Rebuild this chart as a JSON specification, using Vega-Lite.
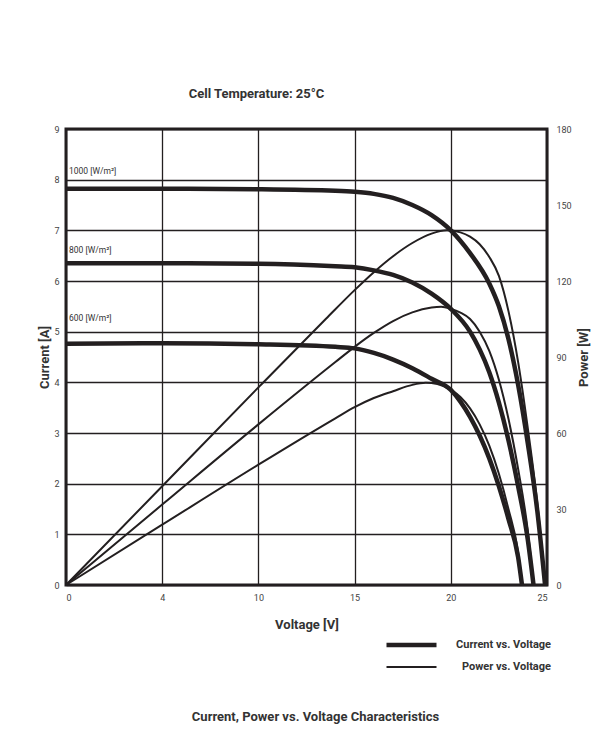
{
  "$schema": "https://vega.github.io/schema/vega-lite/v6.json",
  "background": "white",
  "padding": {"left": 37, "top": 86, "right": 20, "bottom": 20},
  "config": {
    "font": "Roboto",
    "view": {"stroke": "#231f20", "strokeWidth": 3},
    "axis": {"labelFont": "Roboto", "labelFontSize": 9, "labelColor": "#444", "titleFont": "Roboto", "titleFontSize": 13, "titleFontWeight": "bold", "titleColor": "#333", "ticks": false, "domain": false},
    "legend": {"labelFont": "Roboto"}
  },
  "title": {"text": "Current, Power vs. Voltage Characteristics", "orient": "bottom", "anchor": "middle", "fontSize": 13, "fontWeight": "bold", "color": "#333", "offset": 34, "dx": 1},
  "datasets": {
    "current": [
      {"irr": "1000", "type": "Current vs. Voltage", "V": 0, "I": 7.82},
      {"irr": "1000", "type": "Current vs. Voltage", "V": 5, "I": 7.82},
      {"irr": "1000", "type": "Current vs. Voltage", "V": 10, "I": 7.81},
      {"irr": "1000", "type": "Current vs. Voltage", "V": 14, "I": 7.78},
      {"irr": "1000", "type": "Current vs. Voltage", "V": 15, "I": 7.76},
      {"irr": "1000", "type": "Current vs. Voltage", "V": 16, "I": 7.72},
      {"irr": "1000", "type": "Current vs. Voltage", "V": 17, "I": 7.64},
      {"irr": "1000", "type": "Current vs. Voltage", "V": 18, "I": 7.5},
      {"irr": "1000", "type": "Current vs. Voltage", "V": 19, "I": 7.3},
      {"irr": "1000", "type": "Current vs. Voltage", "V": 20, "I": 7.0},
      {"irr": "1000", "type": "Current vs. Voltage", "V": 21, "I": 6.55},
      {"irr": "1000", "type": "Current vs. Voltage", "V": 22, "I": 5.95},
      {"irr": "1000", "type": "Current vs. Voltage", "V": 22.5, "I": 5.5},
      {"irr": "1000", "type": "Current vs. Voltage", "V": 23, "I": 4.85},
      {"irr": "1000", "type": "Current vs. Voltage", "V": 23.5, "I": 3.95},
      {"irr": "1000", "type": "Current vs. Voltage", "V": 24, "I": 2.8},
      {"irr": "1000", "type": "Current vs. Voltage", "V": 24.5, "I": 1.45},
      {"irr": "1000", "type": "Current vs. Voltage", "V": 24.9, "I": 0},
      {"irr": "800", "type": "Current vs. Voltage", "V": 0, "I": 6.35},
      {"irr": "800", "type": "Current vs. Voltage", "V": 5, "I": 6.35},
      {"irr": "800", "type": "Current vs. Voltage", "V": 10, "I": 6.34},
      {"irr": "800", "type": "Current vs. Voltage", "V": 14, "I": 6.29},
      {"irr": "800", "type": "Current vs. Voltage", "V": 15, "I": 6.27},
      {"irr": "800", "type": "Current vs. Voltage", "V": 16, "I": 6.21},
      {"irr": "800", "type": "Current vs. Voltage", "V": 17, "I": 6.12},
      {"irr": "800", "type": "Current vs. Voltage", "V": 18, "I": 5.97},
      {"irr": "800", "type": "Current vs. Voltage", "V": 19, "I": 5.75},
      {"irr": "800", "type": "Current vs. Voltage", "V": 20, "I": 5.45},
      {"irr": "800", "type": "Current vs. Voltage", "V": 21, "I": 5.0},
      {"irr": "800", "type": "Current vs. Voltage", "V": 21.5, "I": 4.65},
      {"irr": "800", "type": "Current vs. Voltage", "V": 22, "I": 4.2},
      {"irr": "800", "type": "Current vs. Voltage", "V": 22.5, "I": 3.6},
      {"irr": "800", "type": "Current vs. Voltage", "V": 23, "I": 2.85},
      {"irr": "800", "type": "Current vs. Voltage", "V": 23.5, "I": 1.95},
      {"irr": "800", "type": "Current vs. Voltage", "V": 24, "I": 0.9},
      {"irr": "800", "type": "Current vs. Voltage", "V": 24.3, "I": 0},
      {"irr": "600", "type": "Current vs. Voltage", "V": 0, "I": 4.76},
      {"irr": "600", "type": "Current vs. Voltage", "V": 5, "I": 4.77},
      {"irr": "600", "type": "Current vs. Voltage", "V": 10, "I": 4.75},
      {"irr": "600", "type": "Current vs. Voltage", "V": 14, "I": 4.7},
      {"irr": "600", "type": "Current vs. Voltage", "V": 15, "I": 4.67},
      {"irr": "600", "type": "Current vs. Voltage", "V": 16, "I": 4.58},
      {"irr": "600", "type": "Current vs. Voltage", "V": 17, "I": 4.45},
      {"irr": "600", "type": "Current vs. Voltage", "V": 18, "I": 4.28},
      {"irr": "600", "type": "Current vs. Voltage", "V": 19, "I": 4.07},
      {"irr": "600", "type": "Current vs. Voltage", "V": 20, "I": 3.85},
      {"irr": "600", "type": "Current vs. Voltage", "V": 20.5, "I": 3.62},
      {"irr": "600", "type": "Current vs. Voltage", "V": 21, "I": 3.32},
      {"irr": "600", "type": "Current vs. Voltage", "V": 21.5, "I": 2.95},
      {"irr": "600", "type": "Current vs. Voltage", "V": 22, "I": 2.5},
      {"irr": "600", "type": "Current vs. Voltage", "V": 22.5, "I": 1.95},
      {"irr": "600", "type": "Current vs. Voltage", "V": 23, "I": 1.3},
      {"irr": "600", "type": "Current vs. Voltage", "V": 23.5, "I": 0.55},
      {"irr": "600", "type": "Current vs. Voltage", "V": 23.7, "I": 0}
    ],
    "power": [
      {"irr": "1000", "type": "Power vs. Voltage", "V": 0, "P": 0},
      {"irr": "1000", "type": "Power vs. Voltage", "V": 5, "P": 39},
      {"irr": "1000", "type": "Power vs. Voltage", "V": 10, "P": 78},
      {"irr": "1000", "type": "Power vs. Voltage", "V": 13.5, "P": 105},
      {"irr": "1000", "type": "Power vs. Voltage", "V": 15, "P": 116.4},
      {"irr": "1000", "type": "Power vs. Voltage", "V": 16, "P": 123.5},
      {"irr": "1000", "type": "Power vs. Voltage", "V": 17, "P": 129.8},
      {"irr": "1000", "type": "Power vs. Voltage", "V": 18, "P": 135},
      {"irr": "1000", "type": "Power vs. Voltage", "V": 19, "P": 138.7},
      {"irr": "1000", "type": "Power vs. Voltage", "V": 19.8, "P": 140},
      {"irr": "1000", "type": "Power vs. Voltage", "V": 20.5, "P": 139.2},
      {"irr": "1000", "type": "Power vs. Voltage", "V": 21, "P": 137.5},
      {"irr": "1000", "type": "Power vs. Voltage", "V": 21.5, "P": 134.5},
      {"irr": "1000", "type": "Power vs. Voltage", "V": 22, "P": 129.5},
      {"irr": "1000", "type": "Power vs. Voltage", "V": 22.5, "P": 122},
      {"irr": "1000", "type": "Power vs. Voltage", "V": 23, "P": 108},
      {"irr": "1000", "type": "Power vs. Voltage", "V": 23.5, "P": 88},
      {"irr": "1000", "type": "Power vs. Voltage", "V": 24, "P": 62},
      {"irr": "1000", "type": "Power vs. Voltage", "V": 24.5, "P": 32},
      {"irr": "1000", "type": "Power vs. Voltage", "V": 24.9, "P": 0},
      {"irr": "800", "type": "Power vs. Voltage", "V": 0, "P": 0},
      {"irr": "800", "type": "Power vs. Voltage", "V": 5, "P": 31.75},
      {"irr": "800", "type": "Power vs. Voltage", "V": 10, "P": 63.4},
      {"irr": "800", "type": "Power vs. Voltage", "V": 14, "P": 88},
      {"irr": "800", "type": "Power vs. Voltage", "V": 15, "P": 94},
      {"irr": "800", "type": "Power vs. Voltage", "V": 16, "P": 99.5},
      {"irr": "800", "type": "Power vs. Voltage", "V": 17, "P": 104.2},
      {"irr": "800", "type": "Power vs. Voltage", "V": 18, "P": 107.6},
      {"irr": "800", "type": "Power vs. Voltage", "V": 19, "P": 109.5},
      {"irr": "800", "type": "Power vs. Voltage", "V": 19.5, "P": 109.8},
      {"irr": "800", "type": "Power vs. Voltage", "V": 20, "P": 109},
      {"irr": "800", "type": "Power vs. Voltage", "V": 20.5, "P": 107.5},
      {"irr": "800", "type": "Power vs. Voltage", "V": 21, "P": 105},
      {"irr": "800", "type": "Power vs. Voltage", "V": 21.5, "P": 100},
      {"irr": "800", "type": "Power vs. Voltage", "V": 22, "P": 92.4},
      {"irr": "800", "type": "Power vs. Voltage", "V": 22.5, "P": 81},
      {"irr": "800", "type": "Power vs. Voltage", "V": 23, "P": 65.5},
      {"irr": "800", "type": "Power vs. Voltage", "V": 23.5, "P": 45.8},
      {"irr": "800", "type": "Power vs. Voltage", "V": 24, "P": 21.6},
      {"irr": "800", "type": "Power vs. Voltage", "V": 24.3, "P": 0},
      {"irr": "600", "type": "Power vs. Voltage", "V": 0, "P": 0},
      {"irr": "600", "type": "Power vs. Voltage", "V": 5, "P": 23.8},
      {"irr": "600", "type": "Power vs. Voltage", "V": 10, "P": 47.5},
      {"irr": "600", "type": "Power vs. Voltage", "V": 14, "P": 65.8},
      {"irr": "600", "type": "Power vs. Voltage", "V": 15, "P": 70.2},
      {"irr": "600", "type": "Power vs. Voltage", "V": 16, "P": 73.8},
      {"irr": "600", "type": "Power vs. Voltage", "V": 17, "P": 76.5},
      {"irr": "600", "type": "Power vs. Voltage", "V": 18, "P": 79},
      {"irr": "600", "type": "Power vs. Voltage", "V": 18.7, "P": 79.8},
      {"irr": "600", "type": "Power vs. Voltage", "V": 19.3, "P": 79.3},
      {"irr": "600", "type": "Power vs. Voltage", "V": 20, "P": 77},
      {"irr": "600", "type": "Power vs. Voltage", "V": 20.5, "P": 74.2},
      {"irr": "600", "type": "Power vs. Voltage", "V": 21, "P": 69.7},
      {"irr": "600", "type": "Power vs. Voltage", "V": 21.5, "P": 63.4},
      {"irr": "600", "type": "Power vs. Voltage", "V": 22, "P": 55},
      {"irr": "600", "type": "Power vs. Voltage", "V": 22.5, "P": 43.9},
      {"irr": "600", "type": "Power vs. Voltage", "V": 23, "P": 29.9},
      {"irr": "600", "type": "Power vs. Voltage", "V": 23.5, "P": 12.9},
      {"irr": "600", "type": "Power vs. Voltage", "V": 23.7, "P": 0}
    ],
    "labels": [
      {"V": 0, "I": 8.17, "label": "1000 [W/m²]"},
      {"V": 0, "I": 6.61, "label": "800 [W/m²]"},
      {"V": 0, "I": 5.27, "label": "600 [W/m²]"}
    ]
  },
  "vconcat": [
    {
      "width": 481,
      "height": 456,
      "title": {"text": "Cell Temperature:  25°C", "anchor": "middle", "dx": -50, "fontSize": 13, "fontWeight": "bold", "color": "#333", "offset": 24},
      "layer": [
        {
          "layer": [
            {
              "data": {"name": "current"},
              "mark": {"type": "line", "interpolate": "monotone", "color": "#231f20"},
              "encoding": {
                "x": {"field": "V", "type": "quantitative", "scale": {"domain": [0, 25], "nice": false}, "axis": {"values": [0, 5, 10, 15, 20, 25], "labelExpr": "datum.value == 5 ? '4' : datum.label", "grid": true, "gridColor": "#231f20", "gridWidth": 1.3, "gridOpacity": 1, "labelPadding": 8, "title": "Voltage [V]", "titlePadding": 16}},
                "y": {"field": "I", "type": "quantitative", "scale": {"domain": [0, 9], "nice": false}, "axis": {"values": [0, 1, 2, 3, 4, 5, 6, 7, 8, 9], "grid": true, "gridColor": "#231f20", "gridWidth": 1.3, "gridOpacity": 1, "labelPadding": 7, "title": "Current [A]", "titlePadding": 2}},
                "detail": {"field": "irr"},
                "strokeWidth": {"field": "type", "type": "nominal", "scale": {"domain": ["Current vs. Voltage", "Power vs. Voltage"], "range": [4.5, 2]}, "legend": {"orient": "none", "legendX": 318, "legendY": 506, "title": null, "symbolType": "stroke", "symbolSize": 2500, "symbolStrokeColor": "#231f20", "labelFontSize": 11, "labelFontWeight": "bold", "labelColor": "#333", "labelAlign": "right", "labelOffset": 112, "clipHeight": 20, "rowPadding": 2}}
              }
            },
            {
              "data": {"name": "labels"},
              "mark": {"type": "text", "align": "left", "baseline": "middle", "dx": 3, "fontSize": 8.5, "color": "#333", "font": "Roboto"},
              "encoding": {
                "x": {"field": "V", "type": "quantitative"},
                "y": {"field": "I", "type": "quantitative"},
                "text": {"field": "label"}
              }
            }
          ]
        },
        {
          "data": {"name": "power"},
          "mark": {"type": "line", "interpolate": "monotone", "color": "#231f20"},
          "encoding": {
            "x": {"field": "V", "type": "quantitative"},
            "y": {"field": "P", "type": "quantitative", "scale": {"domain": [0, 180], "nice": false}, "axis": {"orient": "right", "values": [0, 30, 60, 90, 120, 150, 180], "grid": false, "labelPadding": 9, "title": "Power [W]", "titleAngle": 270, "titlePadding": 19}},
            "detail": {"field": "irr"},
            "strokeWidth": {"field": "type", "type": "nominal"}
          }
        }
      ],
      "resolve": {"scale": {"y": "independent"}}
    }
  ]
}
